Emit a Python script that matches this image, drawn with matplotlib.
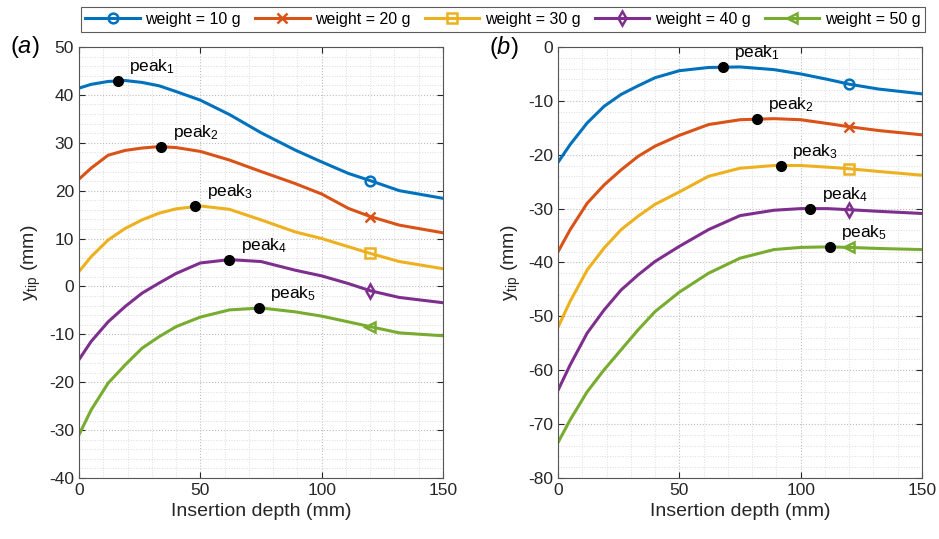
import numpy as np
import matplotlib
matplotlib.use("Agg")
import matplotlib.pyplot as plt
from matplotlib.ticker import MultipleLocator

plt.rcParams["font.family"] = ["Liberation Sans", "DejaVu Sans"]
plt.rcParams["mathtext.fontset"] = "custom"
plt.rcParams["mathtext.rm"] = "Liberation Sans"
plt.rcParams["mathtext.it"] = "Liberation Sans:italic"
plt.rcParams["axes.unicode_minus"] = False

# insertion depth samples (mm), shared by every curve
depth = [0, 5, 12, 19, 26, 33, 40, 50, 62, 75, 89, 100, 111, 120, 132, 150]

weights = [10, 20, 30, 40, 50]

# panel (a): y_tip (mm)
a_10 = [41.4, 42.2, 42.8, 43.0, 42.6, 41.9, 40.7, 38.9, 35.9, 32.1, 28.5, 26.0, 23.6, 22.1, 20.0, 18.4]
a_20 = [22.4, 24.7, 27.4, 28.4, 28.9, 29.2, 29.0, 28.2, 26.4, 24.0, 21.5, 19.3, 16.3, 14.6, 12.8, 11.2]
a_30 = [3.1, 6.2, 9.7, 12.1, 13.9, 15.3, 16.2, 16.8, 16.1, 13.9, 11.4, 10.0, 8.3, 6.9, 5.2, 3.7]
a_40 = [-15.3, -11.5, -7.4, -4.2, -1.4, 0.7, 2.7, 4.9, 5.6, 5.2, 3.4, 2.2, 0.6, -0.9, -2.3, -3.4]
a_50 = [-31.0, -25.8, -20.2, -16.4, -12.9, -10.5, -8.4, -6.4, -4.9, -4.5, -5.3, -6.2, -7.4, -8.4, -9.7, -10.3]
a_peak_x = [16, 34, 48, 62, 74]
a_peak_y = [43.0, 29.2, 16.8, 5.6, -4.5]

# panel (b): y_tip (mm)
b_10 = [-21.4, -18.1, -14.1, -11.0, -8.8, -7.2, -5.7, -4.4, -3.8, -3.7, -4.2, -5.0, -6.0, -6.9, -7.8, -8.7]
b_20 = [-38.0, -33.9, -29.0, -25.6, -22.8, -20.3, -18.4, -16.4, -14.4, -13.5, -13.3, -13.5, -14.2, -14.8, -15.5, -16.3]
b_30 = [-52.0, -47.2, -41.4, -37.3, -33.9, -31.4, -29.2, -26.9, -24.0, -22.5, -22.0, -22.0, -22.3, -22.6, -23.1, -23.8]
b_40 = [-63.7, -59.0, -53.1, -48.8, -45.1, -42.3, -39.8, -37.0, -33.9, -31.3, -30.3, -30.0, -30.0, -30.2, -30.5, -30.9]
b_50 = [-73.4, -69.2, -64.0, -59.9, -56.2, -52.5, -49.1, -45.5, -42.0, -39.2, -37.6, -37.2, -37.1, -37.2, -37.4, -37.6]
b_peak_x = [68, 82, 92, 104, 112]
b_peak_y = [-3.7, -13.3, -22.0, -30.0, -37.1]

colors = ["#0072BD", "#D95319", "#EDB120", "#7E2F8E", "#77AC30"]
markers = ["o", "x", "s", "d", "<"]
mark_idx = depth.index(120)


def draw_panel(ax, curves, peak_x, peak_y, ylim, tag):
    for w, y, c, m in zip(weights, curves, colors, markers):
        ax.plot(depth, y, color=c, lw=2.2, marker=m, markevery=[mark_idx],
                ms=7, mfc="none", mew=1.8, label=f"weight = {w} g")
    ax.plot(peak_x, peak_y, "o", color="black", ms=7, zorder=5)
    for i, (px, py) in enumerate(zip(peak_x, peak_y)):
        ax.annotate(f"peak$_{{{i + 1}}}$", (px, py), xytext=(8, 7),
                    textcoords="offset points", fontsize=12.5, va="baseline")
    ax.set_xlim(0, 150)
    ax.set_ylim(*ylim)
    ax.xaxis.set_major_locator(MultipleLocator(50))
    ax.yaxis.set_major_locator(MultipleLocator(10))
    ax.xaxis.set_minor_locator(MultipleLocator(10))
    ax.yaxis.set_minor_locator(MultipleLocator(2))
    ax.grid(which="major", ls=":", color="#bdbdbd", lw=0.8)
    ax.grid(which="minor", ls=":", color="#dcdcdc", lw=0.7)
    ax.tick_params(which="major", direction="in", top=True, right=True,
                   length=4, labelsize=12.5, colors="#262626")
    ax.tick_params(which="minor", length=0)
    for s in ax.spines.values():
        s.set_color("#555555")
        s.set_linewidth(0.8)
    ax.set_xlabel("Insertion depth (mm)", fontsize=14, color="#262626")
    ax.set_ylabel(r"y$_{\mathrm{tip}}$ (mm)", fontsize=14, color="#262626")
    ax.text(-0.19, 1.0, f"(${tag}$)", transform=ax.transAxes, fontsize=17,
            ha="left", va="center")


fig = plt.figure(figsize=(9.39, 5.39), dpi=100)
ax_a = fig.add_axes([0.0841, 0.1132, 0.3877, 0.7996])
ax_b = fig.add_axes([0.5943, 0.1132, 0.3876, 0.7996])

draw_panel(ax_a, [a_10, a_20, a_30, a_40, a_50], a_peak_x, a_peak_y, (-40, 50), "a")
draw_panel(ax_b, [b_10, b_20, b_30, b_40, b_50], b_peak_x, b_peak_y, (-80, 0), "b")

handles, labels = ax_a.get_legend_handles_labels()
leg = fig.legend(handles, labels, loc="upper center", ncol=5,
                 bbox_to_anchor=(503 / 939, 1 - 7 / 539), fontsize=11.5,
                 frameon=True, fancybox=False, edgecolor="#333333",
                 handlelength=3.4, columnspacing=0.9, handletextpad=0.35,
                 borderpad=0.3, borderaxespad=0)
leg.get_frame().set_linewidth(0.8)

fig.savefig("out.png", dpi=100)
